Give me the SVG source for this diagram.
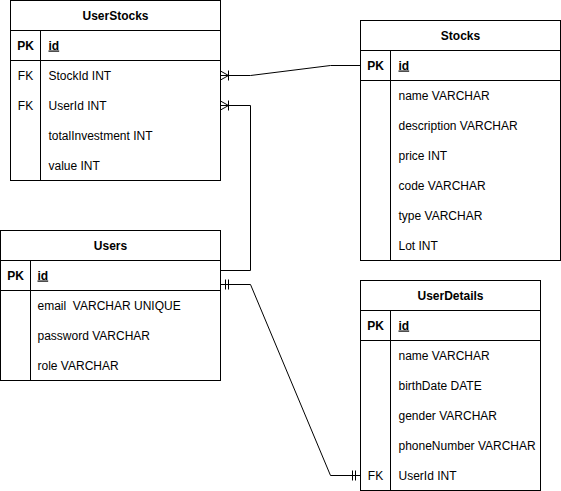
<svg xmlns="http://www.w3.org/2000/svg" width="561" height="491" viewBox="0 0 561 491">
<style>
.box{fill:#fff;stroke:#000;stroke-width:1}
.ln{stroke:#000;stroke-width:1;fill:none}
text{font-family:"Liberation Sans",Arial,sans-serif;font-size:12px;fill:#000}
.t{font-weight:bold;text-anchor:middle}
.k{text-anchor:middle}
.pk{font-weight:bold;text-anchor:middle}
.id{font-weight:bold;text-decoration:underline}
.c{stroke:#000;stroke-width:1;fill:none}
</style>
<defs>
<marker id="many" markerUnits="userSpaceOnUse" markerWidth="20" markerHeight="20" viewBox="-10 -10 20 20" refX="0" refY="0" orient="auto-start-reverse" overflow="visible">
<path d="M0,-4.5 L-8,0 L0,4.5 M-8,-5 L-8,5" fill="none" stroke="#000" stroke-width="1"/>
</marker>
<marker id="one" markerUnits="userSpaceOnUse" markerWidth="20" markerHeight="20" viewBox="-10 -10 20 20" refX="0" refY="0" orient="auto-start-reverse" overflow="visible">
<path d="M-5,-5 L-5,5 M-8,-5 L-8,5" fill="none" stroke="#000" stroke-width="1"/>
</marker>
</defs>

<g id="connectors">
<path class="c" d="M220.5,75.5 L250.5,75.5 L330.5,65.5 L360.5,65.5" marker-start="url(#many)"/>
<path class="c" d="M220.5,105.5 L250.5,105.5 L250.5,270.5 L220.5,270.5" marker-start="url(#many)"/>
<path class="c" d="M220.5,284.5 L250.5,284.5 L330.5,475.5 L360.5,475.5" marker-start="url(#one)" marker-end="url(#one)"/>
</g>

<g id="UserStocks">
<rect class="box" x="10.5" y="0.5" width="210" height="180"/>
<path class="ln" d="M10.5,30.5 H220.5 M10.5,60.5 H220.5 M40.5,30.5 V180.5"/>
<text class="t" x="115.5" y="19.5">UserStocks</text>
<text class="pk" x="25.5" y="49.5">PK</text>
<text class="id" x="48.5" y="49.5">id</text>
<text class="k" x="25.5" y="79.5">FK</text>
<text x="48.5" y="79.5">StockId INT</text>
<text class="k" x="25.5" y="109.5">FK</text>
<text x="48.5" y="109.5">UserId INT</text>
<text x="48.5" y="139.5">totalInvestment INT</text>
<text x="48.5" y="169.5">value INT</text>
</g>

<g id="Stocks">
<rect class="box" x="360.5" y="20.5" width="200" height="240"/>
<path class="ln" d="M360.5,50.5 H560.5 M360.5,80.5 H560.5 M390.5,50.5 V260.5"/>
<text class="t" x="460.5" y="39.5">Stocks</text>
<text class="pk" x="375.5" y="69.5">PK</text>
<text class="id" x="398.5" y="69.5">id</text>
<text x="398.5" y="99.5">name VARCHAR</text>
<text x="398.5" y="129.5">description VARCHAR</text>
<text x="398.5" y="159.5">price INT</text>
<text x="398.5" y="189.5">code VARCHAR</text>
<text x="398.5" y="219.5">type VARCHAR</text>
<text x="398.5" y="249.5">Lot INT</text>
</g>

<g id="Users">
<rect class="box" x="0.5" y="230.5" width="220" height="150"/>
<path class="ln" d="M0.5,260.5 H220.5 M0.5,290.5 H220.5 M30.5,260.5 V380.5"/>
<text class="t" x="110.5" y="249.5">Users</text>
<text class="pk" x="15.5" y="279.5">PK</text>
<text class="id" x="37.5" y="279.5">id</text>
<text x="37.5" y="309.5" xml:space="preserve">email  VARCHAR UNIQUE</text>
<text x="37.5" y="339.5">password VARCHAR</text>
<text x="37.5" y="369.5">role VARCHAR</text>
</g>

<g id="UserDetails">
<rect class="box" x="360.5" y="280.5" width="180" height="210"/>
<path class="ln" d="M360.5,310.5 H540.5 M360.5,340.5 H540.5 M390.5,310.5 V490.5"/>
<text class="t" x="450.5" y="299.5">UserDetails</text>
<text class="pk" x="375.5" y="329.5">PK</text>
<text class="id" x="398.5" y="329.5">id</text>
<text x="398.5" y="359.5">name VARCHAR</text>
<text x="398.5" y="389.5">birthDate DATE</text>
<text x="398.5" y="419.5">gender VARCHAR</text>
<text x="398.5" y="449.5">phoneNumber VARCHAR</text>
<text class="k" x="375.5" y="479.5">FK</text>
<text x="398.5" y="479.5">UserId INT</text>
</g>
</svg>
